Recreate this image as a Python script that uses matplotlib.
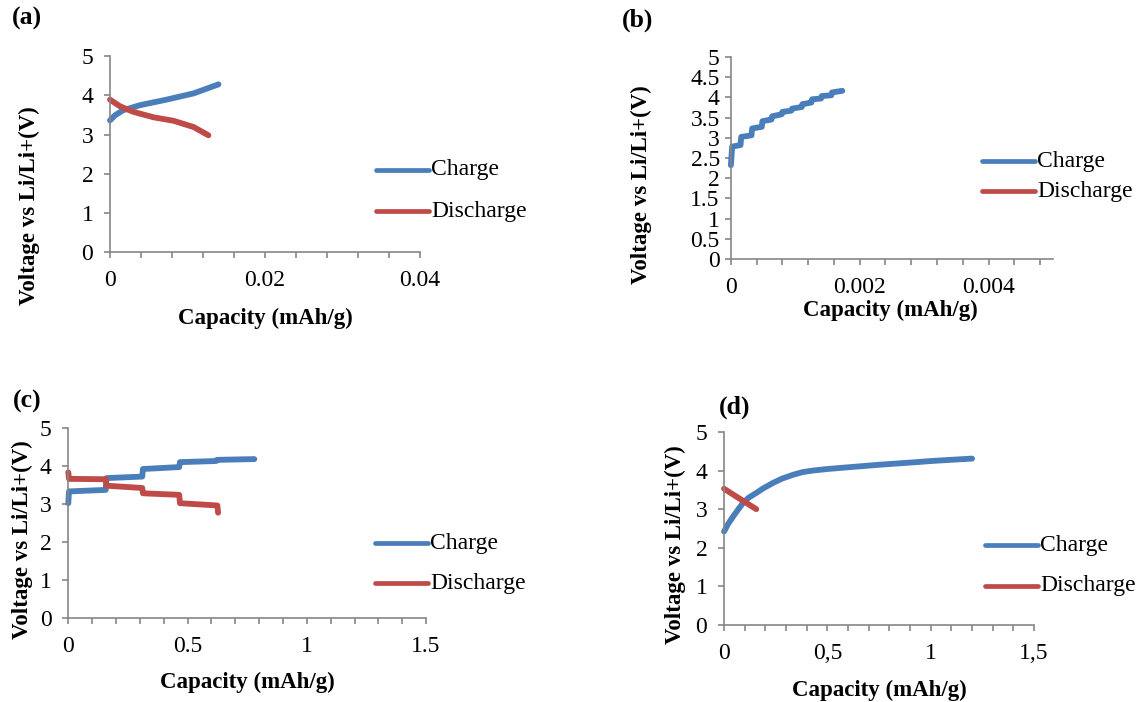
import matplotlib
matplotlib.use("Agg")
import matplotlib.pyplot as plt
import numpy as np
from matplotlib.ticker import FixedLocator, FuncFormatter

plt.rcParams["font.family"] = ["Liberation Serif", "DejaVu Serif"]

BLUE = "#4A7EBB"
RED = "#BE4B48"
AXC = "#868686"

# (a) charge / discharge, capacity in mAh/g
a_ch_x = [0, 0.00065, 0.0017, 0.0039, 0.0073, 0.0108, 0.0140]
a_ch_y = [3.36, 3.49, 3.62, 3.75, 3.89, 4.05, 4.28]
a_dis_x = [0, 0.0013, 0.0030, 0.0056, 0.0082, 0.0108, 0.0127]
a_dis_y = [3.89, 3.72, 3.58, 3.44, 3.35, 3.19, 2.98]

# (b) charge only (stair-like curve)
b_ch_x = [0, 0.00002, 0.00015, 0.00016, 0.00032, 0.00033, 0.00048, 0.00049,
          0.00063, 0.00064, 0.00079, 0.00080, 0.00094, 0.00095, 0.00110, 0.00111,
          0.00125, 0.00126, 0.00140, 0.00141, 0.00156, 0.00157, 0.00173]
b_ch_y = [2.32, 2.78, 2.82, 3.02, 3.06, 3.23, 3.27, 3.41,
          3.45, 3.53, 3.58, 3.64, 3.67, 3.72, 3.76, 3.83,
          3.87, 3.95, 3.97, 4.03, 4.05, 4.12, 4.16]
b_dis_x = []
b_dis_y = []

# (c) stepped curves
c_ch_x = [0, 0.003, 0.157, 0.160, 0.310, 0.313, 0.465, 0.468, 0.620, 0.623, 0.70, 0.78]
c_ch_y = [3.02, 3.33, 3.37, 3.68, 3.72, 3.92, 3.97, 4.10, 4.13, 4.16, 4.17, 4.18]
c_dis_x = [0, 0.003, 0.157, 0.160, 0.310, 0.313, 0.465, 0.468, 0.625, 0.628]
c_dis_y = [3.83, 3.66, 3.65, 3.48, 3.42, 3.28, 3.24, 3.02, 2.96, 2.77]

# (d)
d_ch_x = [0, 0.02, 0.044, 0.068, 0.092, 0.12, 0.156, 0.19, 0.237, 0.28, 0.334,
          0.38, 0.43, 0.50, 0.59, 0.75, 0.91, 1.01, 1.20]
d_ch_y = [2.42, 2.62, 2.81, 2.99, 3.16, 3.30, 3.42, 3.54, 3.68, 3.79, 3.89,
          3.96, 4.00, 4.04, 4.08, 4.15, 4.21, 4.25, 4.31]
d_dis_x = [0, 0.076, 0.156]
d_dis_y = [3.53, 3.27, 3.00]

FS = 17
FS_LAB = 16.5


def fmt_factory(labels):
    def f(v, pos):
        for k, lab in labels.items():
            if abs(v - k) < 1e-9:
                return lab
        return ""
    return FuncFormatter(f)


def style_ax(ax, xlim, xticks, xlabels, ylim, yticks, ylabels, xpad=9):
    for s in ["top", "right"]:
        ax.spines[s].set_visible(False)
    for s in ["left", "bottom"]:
        ax.spines[s].set_color(AXC)
        ax.spines[s].set_linewidth(1.2)
    ax.set_xlim(*xlim)
    ax.set_ylim(*ylim)
    ax.xaxis.set_major_locator(FixedLocator(xticks))
    ax.xaxis.set_major_formatter(fmt_factory(xlabels))
    ax.set_yticks(yticks)
    ax.set_yticklabels(ylabels)
    ax.tick_params(axis="both", direction="out", length=4, width=1.2, color=AXC,
                   labelsize=FS)
    ax.tick_params(axis="x", pad=xpad)
    ax.tick_params(axis="y", pad=8)


fig = plt.figure(figsize=(11.42, 7.02), dpi=100)

axa = fig.add_axes([0.0963, 0.641, 0.2715, 0.279])
axb = fig.add_axes([0.640, 0.631, 0.282, 0.288])
axc = fig.add_axes([0.0598, 0.1197, 0.3133, 0.2707])
axd = fig.add_axes([0.634, 0.1097, 0.2715, 0.275])

lw = 4.2
for ax, cx, cy, dx, dy in [(axa, a_ch_x, a_ch_y, a_dis_x, a_dis_y),
                           (axb, b_ch_x, b_ch_y, b_dis_x, b_dis_y),
                           (axc, c_ch_x, c_ch_y, c_dis_x, c_dis_y),
                           (axd, d_ch_x, d_ch_y, d_dis_x, d_dis_y)]:
    ax.plot(cx, cy, color=BLUE, lw=lw, solid_capstyle="round",
            solid_joinstyle="round", label="Charge", clip_on=False)
    ax.plot(dx, dy, color=RED, lw=lw, solid_capstyle="round",
            solid_joinstyle="round", label="Discharge", clip_on=False)

style_ax(axa, (0, 0.04), np.arange(0, 0.0401, 0.004),
         {0: "0", 0.02: "0.02", 0.04: "0.04"},
         (0, 5), range(6), [str(i) for i in range(6)])
style_ax(axb, (0, 0.005), np.arange(0, 0.00481, 0.0004),
         {0: "0", 0.002: "0.002", 0.004: "0.004"},
         (0, 5), np.arange(0, 5.01, 0.5),
         ["0", "0.5", "1", "1.5", "2", "2.5", "3", "3.5", "4", "4.5", "5"])
axb.tick_params(axis="y", pad=4)
style_ax(axc, (0, 1.5), np.arange(0, 1.501, 0.1),
         {0: "0", 0.5: "0.5", 1.0: "1", 1.5: "1.5"},
         (0, 5), range(6), [str(i) for i in range(6)])
style_ax(axd, (0, 1.5), np.arange(0, 1.501, 0.1),
         {0: "0", 0.5: "0,5", 1.0: "1", 1.5: "1,5"},
         (0, 5), range(6), [str(i) for i in range(6)])

# axis titles
ylab = "Voltage vs Li/Li+(V)"
xlab = "Capacity (mAh/g)"
for (xx, yy) in [(29, 206), (641, 185), (22, 540), (675, 545)]:
    fig.text(xx / 1142, 1 - yy / 702, ylab, rotation=90, ha="center", va="center",
             fontsize=FS_LAB, fontweight="bold")
for (xx, yy) in [(265, 318), (890, 310), (247, 682), (879, 690)]:
    fig.text(xx / 1142, 1 - yy / 702, xlab, ha="center", va="center",
             fontsize=FS_LAB, fontweight="bold")

# panel letters
for (xx, yy, t) in [(12, 18, "(a)"), (622, 20, "(b)"), (13, 401, "(c)"), (719, 407, "(d)")]:
    fig.text(xx / 1142, 1 - yy / 702, t, ha="left", va="center",
             fontsize=18.5, fontweight="bold")

# legends (x of line start, y of first row, row gap)
for ax, (lx, ly, gap) in [(axa, (376, 170, 41)), (axb, (982, 161, 30)),
                          (axc, (375, 543, 40)), (axd, (985, 545, 41))]:
    for i, (c, t) in enumerate([(BLUE, "Charge"), (RED, "Discharge")]):
        y = 1 - (ly + i * gap) / 702
        fig.add_artist(plt.Line2D([lx / 1142, (lx + 53) / 1142], [y, y], color=c,
                                  lw=3.4, solid_capstyle="round",
                                  transform=fig.transFigure))
        fig.text((lx + 55) / 1142, y, t, ha="left", va="center", fontsize=FS)

fig.savefig("out.png", dpi=100)
